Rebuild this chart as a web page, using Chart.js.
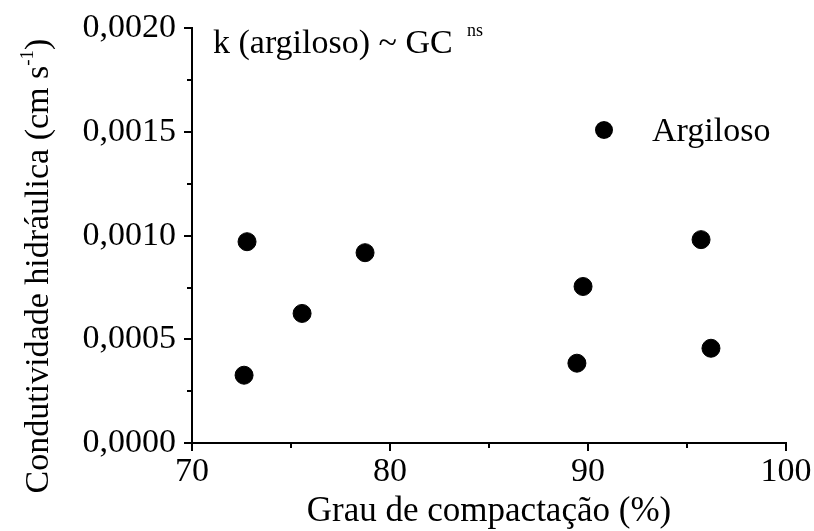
<!DOCTYPE html>
<html>
<head>
<meta charset="utf-8">
<script src="https://cdn.jsdelivr.net/npm/chart.js@4"></script>
<style>
  html, body { margin: 0; padding: 0; background: #fff; }
  #wrap { width: 814px; height: 531px; }
</style>
</head>
<body>
<div id="wrap"><canvas id="chart"></canvas></div>
<script>
// data
const grauCompactacao = [72.63, 72.78, 75.56, 78.74, 89.44, 89.75, 95.71, 96.21];
const condutividade = [0.000327, 0.000971, 0.000625, 0.000918, 0.000385, 0.000755, 0.000981, 0.000457];
const xMinorTicks = [75, 85, 95];
const yMinorTicks = [0.00025, 0.00075, 0.00125, 0.00175];
const serieLabel = "Argiloso";
const xTitle = "Grau de compactação (%)";
const yTitle = "Condutividade hidráulica (cm s";
const yTitleSup = "-1";
const note = "k (argiloso) ~ GC";
const noteSup = "ns";

const FONT = "'Liberation Serif', 'Times New Roman', serif";

const points = grauCompactacao.map((x, i) => ({ x: x, y: condutividade[i] }));

// minor ticks, legend, y title and the note
const extras = {
  id: "extras",
  afterDraw(chart) {
    const ctx = chart.ctx;
    const xs = chart.scales.x;
    const ys = chart.scales.y;
    const area = chart.chartArea;
    ctx.save();
    ctx.strokeStyle = "#000";
    ctx.lineWidth = 2;
    xMinorTicks.forEach(v => {
      const px = Math.round(xs.getPixelForValue(v));
      ctx.beginPath();
      ctx.moveTo(px, area.bottom);
      ctx.lineTo(px, area.bottom + 5);
      ctx.stroke();
    });
    yMinorTicks.forEach(v => {
      const py = Math.round(ys.getPixelForValue(v));
      ctx.beginPath();
      ctx.moveTo(area.left, py);
      ctx.lineTo(area.left - 5, py);
      ctx.stroke();
    });

    ctx.fillStyle = "#000";
    ctx.textBaseline = "alphabetic";
    ctx.textAlign = "left";

    // legend
    ctx.beginPath();
    ctx.arc(604, 130, 9, 0, Math.PI * 2);
    ctx.fill();
    ctx.font = "34px " + FONT;
    ctx.fillText(chart.data.datasets[0].label, 652, 141);

    // note at top
    ctx.font = "34px " + FONT;
    ctx.fillText(note, 213, 53);
    ctx.font = "18px " + FONT;
    ctx.fillText(noteSup, 467, 36);

    // y axis title
    ctx.translate(48, 266);
    ctx.rotate(-Math.PI / 2);
    ctx.font = "34px " + FONT;
    const w1 = ctx.measureText(yTitle).width;
    ctx.font = "19px " + FONT;
    const w2 = ctx.measureText(yTitleSup).width;
    ctx.font = "34px " + FONT;
    const w3 = ctx.measureText(")").width;
    const x0 = -(w1 + w2 + w3) / 2;
    ctx.fillText(yTitle, x0, 0);
    ctx.font = "19px " + FONT;
    ctx.fillText(yTitleSup, x0 + w1, -15);
    ctx.font = "34px " + FONT;
    ctx.fillText(")", x0 + w1 + w2, 0);
    ctx.restore();
  }
};

new Chart(document.getElementById("chart"), {
  type: "scatter",
  data: {
    datasets: [{
      label: serieLabel,
      data: points,
      backgroundColor: "#000",
      borderColor: "#000",
      pointRadius: 9,
      pointHoverRadius: 9
    }]
  },
  options: {
    responsive: true,
    maintainAspectRatio: false,
    animation: false,
    layout: { padding: { top: 27, right: 28, left: 0, bottom: 0 } },
    plugins: {
      legend: { display: false },
      tooltip: { enabled: false }
    },
    scales: {
      x: {
        type: "linear",
        min: 70,
        max: 100,
        afterFit: s => { s.height = 88; },
        border: { display: true, color: "#000", width: 2 },
        grid: { drawOnChartArea: false, color: "#000", lineWidth: 2, tickLength: 8 },
        ticks: {
          stepSize: 10,
          color: "#000",
          padding: 1,
          font: { family: FONT, size: 34 }
        },
        title: {
          display: true,
          text: xTitle,
          color: "#000",
          font: { family: FONT, size: 35, lineHeight: 1.1 },
          padding: { top: 0, bottom: 0 }
        }
      },
      y: {
        type: "linear",
        min: 0,
        max: 0.002,
        afterFit: s => { s.width = 192; },
        border: { display: true, color: "#000", width: 2 },
        grid: { drawOnChartArea: false, color: "#000", lineWidth: 2, tickLength: 8 },
        ticks: {
          stepSize: 0.0005,
          color: "#000",
          padding: 8,
          font: { family: FONT, size: 34 },
          callback: v => v.toFixed(4).replace(".", ",")
        }
      }
    }
  },
  plugins: [extras]
});
</script>
</body>
</html>
